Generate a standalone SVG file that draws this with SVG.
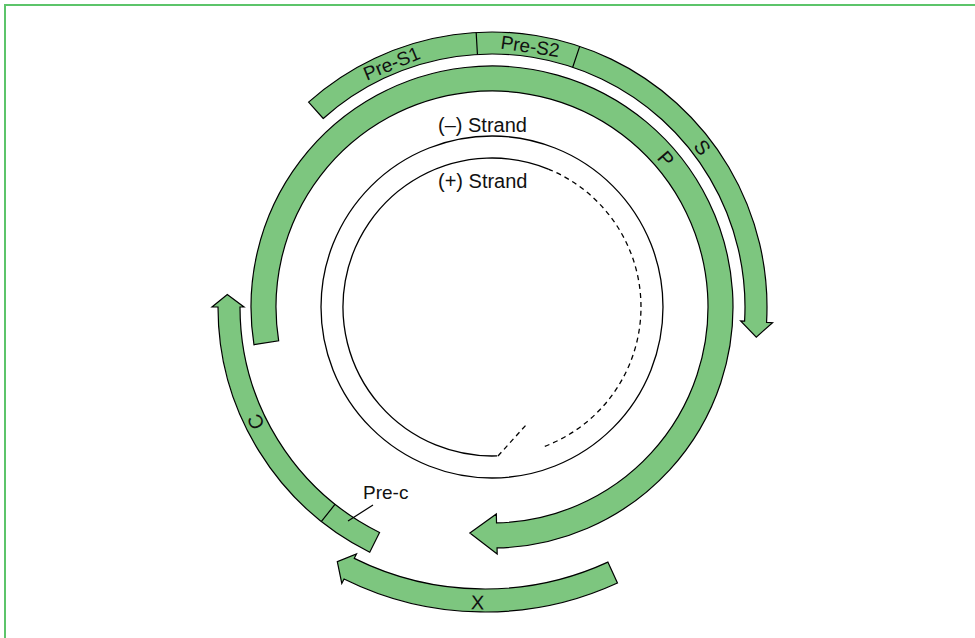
<svg xmlns="http://www.w3.org/2000/svg" width="975" height="638" viewBox="0 0 975 638">
  <style>
    .band { fill: #7dc67f; stroke: #000; stroke-width: 1.2; stroke-linejoin: miter; }
    .div { fill: none; stroke: #000; stroke-width: 1.2; }
    .strand { fill: none; stroke: #000; stroke-width: 1.3; }
    .dash { fill: none; stroke: #000; stroke-width: 1.3; stroke-dasharray: 5 4; }
    .lbl { font-family: "Liberation Sans", "DejaVu Sans", sans-serif; font-size: 19px; fill: #111; }
    .big { font-size: 20px; }
  </style>
  <rect width="975" height="638" fill="#fff"/>
  <path d="M5,638 V5 H975" fill="none" stroke="#5cc46a" stroke-width="2"/>

  <g id="minus-strand">
    <circle class="strand" cx="492" cy="307" r="171"/>
    <text class="lbl big" x="438" y="132">(–) Strand</text>
  </g>

  <g id="plus-strand">
    <path class="strand" d="M497.2,455.9 A149,149 0 1 1 548.3,169.05"/>
    <path class="dash" d="M548.3,169.05 A149,149 0 0 1 542.96,447.01"/>
    <path class="dash" d="M498,456 L526,425"/>
    <text class="lbl big" x="438" y="188">(+) Strand</text>
  </g>

  <g id="gene-S">
    <path class="band" d="M323.26,118.49 L308.58,102.1 A275,275 0 0 1 766.57,322.35 L772.56,322.69 L756.29,337.11 L740.61,320.9 L744.6,321.12 A253,253 0 0 0 323.26,118.49 Z"/>
    <path class="div" d="M477.44,54.42 L476.17,32.46 M572.7,67.21 L579.71,46.36"/>
    <text class="lbl" text-anchor="middle" y="7" transform="translate(391.4,62.9) rotate(-22.4)">Pre-S1</text>
    <text class="lbl" text-anchor="middle" y="7" transform="translate(530.3,45.8) rotate(8.35)">Pre-S2</text>
    <text class="lbl big" text-anchor="middle" y="7" transform="translate(702.3,147.4) rotate(52.8)">S</text>
  </g>

  <g id="gene-P">
    <path class="band" d="M253.97,344.7 A241,241 0 1 1 497.05,547.95 L497.17,553.95 L469.85,532.92 L496.34,513.95 L496.52,522.95 A216,216 0 1 0 278.66,340.79 Z"/>
    <text class="lbl big" text-anchor="middle" y="7" transform="translate(666,158.9) rotate(49.6)">P</text>
  </g>

  <g id="gene-C">
    <path class="band" d="M379.56,532.52 L369.74,552.21 A274,274 0 0 1 218,307 L212,307 L227.29,294.52 L244,307 L240,307 A252,252 0 0 0 379.56,532.52 Z"/>
    <path class="div" d="M335.13,504.22 L321.43,521.44"/>
    <text class="lbl big" text-anchor="middle" y="7" transform="translate(255.7,421.7) rotate(-115.9)">C</text>
  </g>

  <g id="gene-X">
    <path class="band" d="M607.85,562.1 L617.46,583 A317,317 0 0 1 344.05,578.94 L341.8,583.4 L337.3,561.7 L356.5,553.9 L354.28,558.34 A294,294 0 0 0 607.85,562.1 Z"/>
    <text class="lbl big" text-anchor="middle" y="7" transform="translate(477.5,602.5) rotate(1.5)">X</text>
  </g>

  <g id="connectors">
    <path class="div" d="M373,505 L348,521"/>
  </g>
  <g id="label-prec">
    <text class="lbl" x="363" y="499">Pre-c</text>
  </g>
</svg>
